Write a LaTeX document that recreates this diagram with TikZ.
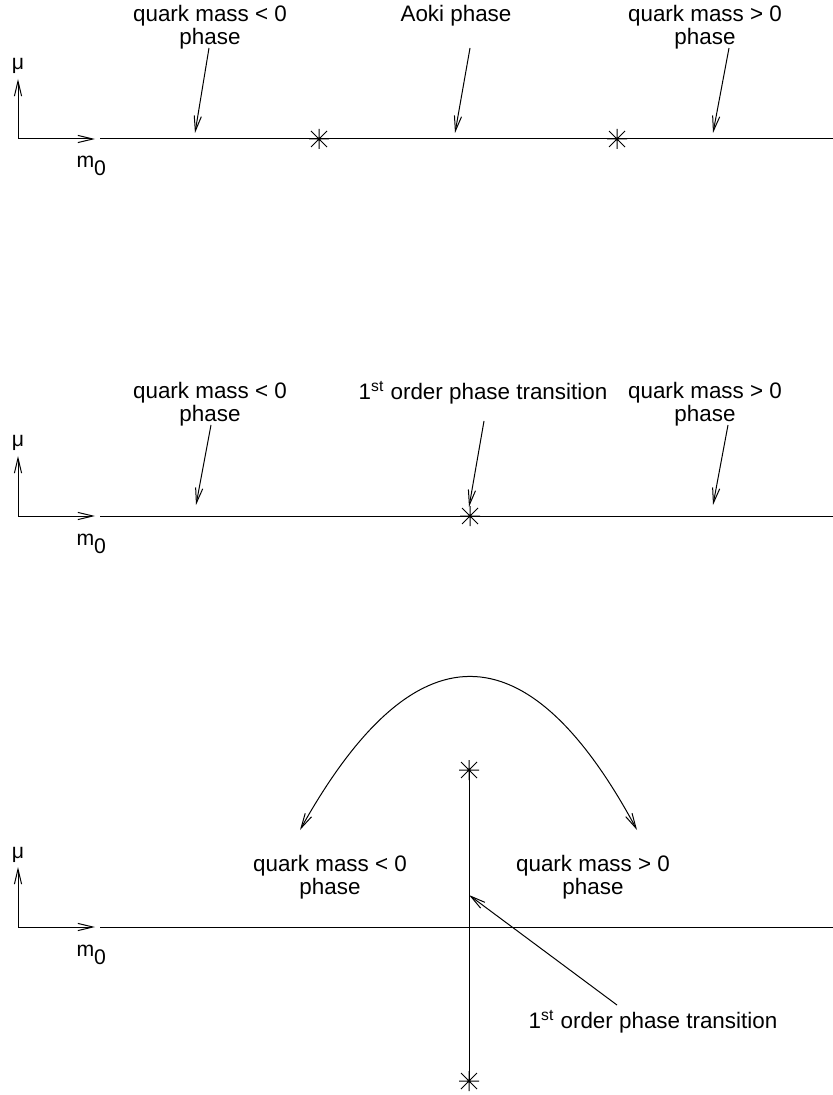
\documentclass[tikz,border=0pt]{standalone}
\usepackage{fontspec}
\setmainfont{Liberation Sans}
\usetikzlibrary{arrows.meta}
\tikzset{
 lbl/.style={align=center,inner sep=0pt,font=\fontsize{11.2}{11.5}\selectfont},
 axlbl/.style={inner sep=0pt,font=\fontsize{10.6}{11}\selectfont},
 astmark/.pic={\draw (-10,0)--(10,0) (0,-10)--(0,10) (-8,-8)--(8,8) (-8,8)--(8,-8);}
}

\begin{document}
\begin{tikzpicture}[x=0.5pt,y=-0.5pt,line width=0.5pt,>={Straight Barb[length=7.5pt,width=3.6pt]}]
\useasboundingbox (0,0) rectangle (833,1095);
% small axes
\foreach \y/\n in {139/a,516/b,927/c}{
 \coordinate (o\n) at (18,\y);
 \coordinate (mt\n) at (18,\y-60);
 \coordinate (xt\n) at (95,\y);
 \draw[->] (o\n)--(mt\n);
 \draw[->] (o\n)--(xt\n);
 \node[axlbl,anchor=base] (mu\n) at (18,\y-69) {μ};
 \node[axlbl,anchor=base west] (mz\n) at (76,\y+29) {m\raisebox{-4pt}{0}};
 \coordinate (ls\n) at (100,\y);
 \coordinate (le\n) at (833,\y);
 \draw (ls\n)--(le\n);
}
% panel a
\pic at (319,139) {astmark};
\pic at (617,139) {astmark};
\node[lbl] (nega) at (210,27) {quark mass < 0\\phase};
\node[lbl] (aoki) at (456,16) {Aoki phase};
\node[lbl] (posa) at (705,27) {quark mass > 0\\phase};
\coordinate (nega1) at (209,48);
\coordinate (nega2) at (195,133);
\coordinate (aoki1) at (470,48);
\coordinate (aoki2) at (455,133);
\coordinate (posa1) at (729,48);
\coordinate (posa2) at (713,133);
\draw[->] (nega1)--(nega2);
\draw[->] (aoki1)--(aoki2);
\draw[->] (posa1)--(posa2);
% panel b
\pic at (470,516) {astmark};
\node[lbl] (negb) at (210,404) {quark mass < 0\\phase};
\node[lbl] (trb) at (483,393) {1\textsuperscript{st} order phase transition};
\node[lbl] (posb) at (705,404) {quark mass > 0\\phase};
\coordinate (negb1) at (211,425);
\coordinate (negb2) at (196,505);
\coordinate (trb1) at (484,421);
\coordinate (trb2) at (469,507);
\coordinate (posb1) at (728,425);
\coordinate (posb2) at (713,505);
\draw[->] (negb1)--(negb2);
\draw[->] (trb1)--(trb2);
\draw[->] (posb1)--(posb2);
% panel c
\coordinate (vtop) at (469,770);
\coordinate (vbot) at (469,1081);
\draw (vtop)--(vbot);
\pic at (vtop) {astmark};
\pic at (vbot) {astmark};
\coordinate (arcl) at (300,830);
\coordinate (arcr) at (637,830);
\draw[<->] (arcl) .. controls (414,626) and (527,626) .. (arcr);
\node[lbl] (negc) at (330,877) {quark mass < 0\\phase};
\node[lbl] (posc) at (593,877) {quark mass > 0\\phase};
\node[lbl] (trc) at (653,1022) {1\textsuperscript{st} order phase transition};
\coordinate (trc1) at (617,1005);
\coordinate (trc2) at (469,895);
\draw[->] (trc1)--(trc2);
\end{tikzpicture}
\end{document}
